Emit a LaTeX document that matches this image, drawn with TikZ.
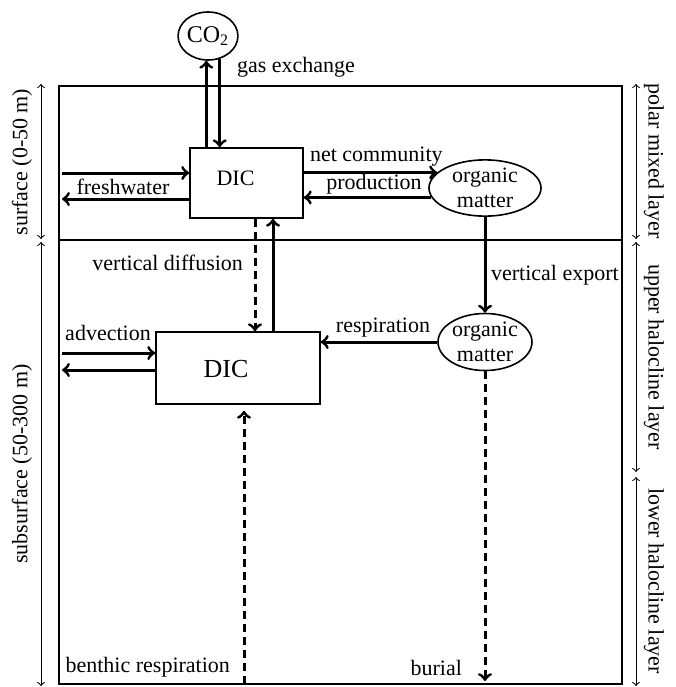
\documentclass[tikz,border=0pt]{standalone}
\usepackage{fontspec}
\setmainfont{Liberation Serif}
\usepackage{tikz}
\usetikzlibrary{arrows}
\usetikzlibrary{positioning}
\usetikzlibrary{shapes.geometric}

\begin{document}
\begin{tikzpicture}[x=0.5pt, y=-0.5pt, auto,
        every node/.style={font=\fontsize{11}{12.5}\selectfont},
        pool/.style={draw, rectangle, line width=0.8pt, inner sep=0pt},
        matter/.style={draw, ellipse, line width=0.8pt, inner sep=0pt, align=center},
        flux/.style={->, line width=1.5pt},
        dflux/.style={->, line width=1.5pt, dash pattern=on 4pt off 2.5pt},
        span/.style={<->, line width=0.5pt}]

            \useasboundingbox (0,0) rectangle (676,687);

            % Frame and layers
            \coordinate (NW) at (59,86);
            \coordinate (SE) at (622,684);
            \coordinate (mixW) at (59,240);
            \coordinate (mixE) at (622,240);
            \coordinate (inL) at (62,0); % free ends at the left wall
            \draw [line width=0.8pt] (NW) rectangle (SE);
            \draw [line width=0.8pt] (mixW) -- (mixE);

            % Nodes
            \node [draw, ellipse, line width=0.8pt, inner sep=0pt, minimum width=28pt, minimum height=24pt,
                   font=\fontsize{12}{14}\selectfont] (CO2) at (208,36) {CO\textsubscript{2}};
            \node [pool, minimum width=56.5pt, minimum height=35pt,
                   label={[xshift=-5.5pt, yshift=2.5pt]center:DIC}] (DICs) at (246.5,183) {};
            \node [matter, minimum width=56pt, minimum height=28pt] (omU) at (485,188) {organic\\matter};
            \node [matter, minimum width=47pt, minimum height=28.5pt] (omL) at (485,342) {organic\\matter};
            \node [pool, minimum width=82pt, minimum height=36pt,
                   label={[xshift=-6pt, yshift=-0.5pt, font=\fontsize{13}{15}\selectfont]center:DIC}] (DICl) at (238,368) {};

            % Connections (Arrows)
            \draw [flux] (CO2.-94 |- DICs.north) -- (CO2.-94); % gas exchange
            \draw [flux] (CO2.-63) -- (CO2.-63 |- DICs.north);
            \draw [flux] ([yshift=5pt]DICs.west -| inL) -- ([yshift=5pt]DICs.west); % freshwater
            \draw [flux] ([yshift=-8pt]DICs.west) -- ([yshift=-8pt]DICs.west -| inL);
            \draw [flux] (DICs.east |- omU.162) -- (omU.162); % net community production
            \draw [flux] (omU.190) -- (omU.190 -| DICs.east);
            \draw [flux] (omU.south) -- (omL.north); % vertical export
            \draw [flux] (omL.west) -- (omL.west -| DICl.east); % respiration
            \draw [dflux] ([xshift=4.25pt]DICs.south) -- ([xshift=4.25pt]DICs.south |- DICl.north); % vertical diffusion
            \draw [flux] ([xshift=13.25pt]DICs.south |- DICl.north) -- ([xshift=13.25pt]DICs.south);
            \draw [flux] ([yshift=7.5pt]DICl.west -| inL) -- ([yshift=7.5pt]DICl.west); % advection
            \draw [flux] ([yshift=-1pt]DICl.west) -- ([yshift=-1pt]DICl.west -| inL);
            \draw [dflux] ([xshift=3pt]DICl.south |- SE) -- ([xshift=3pt, yshift=-3pt]DICl.south); % benthic respiration
            \draw [dflux, shorten >=1.5pt] (omL.south) -- (omL.south |- SE); % burial

            % Flux labels
            \node [anchor=west] (gasL) at (230,67) {gas exchange};
            \node [anchor=west] (ncpL) at (303,157) {net community};
            \node (prodL) at (374,184) {production};
            \node (fwL) at (123,187) {freshwater};
            \node [anchor=east] (vdL) at (250,263) {vertical diffusion};
            \node [anchor=west] (veL) at (484,275) {vertical export};
            \node (respL) at (383,328) {respiration};
            \node (advL) at (108,333) {advection};
            \node [anchor=east] (benL) at (237,667) {benthic respiration};
            \node [anchor=east] (burL) at (469,668) {burial};

            % Depth ranges
            \coordinate (lTop) at (41,84);
            \coordinate (lMid) at (41,239);
            \coordinate (lMid2) at (41,242);
            \coordinate (lBot) at (41,686);
            \draw [span] (lTop) -- (lMid);
            \draw [span] (lMid2) -- (lBot);
            \node [rotate=90] (surfL) at (22,162) {surface (0-50 m)};
            \node [rotate=90] (subL) at (22,464) {subsurface (50-300 m)};

            \coordinate (rTop) at (636,84);
            \coordinate (rMid) at (636,239);
            \coordinate (rMid2) at (636,242);
            \coordinate (rLow) at (636,472);
            \coordinate (rLow2) at (636,477);
            \coordinate (rBot) at (636,686);
            \draw [span] (rTop) -- (rMid);
            \draw [span] (rMid2) -- (rLow);
            \draw [span] (rLow2) -- (rBot);
            \node [rotate=-90] (pmlL) at (654,161) {polar mixed layer};
            \node [rotate=-90] (uhlL) at (654,357) {upper halocline layer};
            \node [rotate=-90] (lhlL) at (654,581) {lower halocline layer};

        \end{tikzpicture}
\end{document}
